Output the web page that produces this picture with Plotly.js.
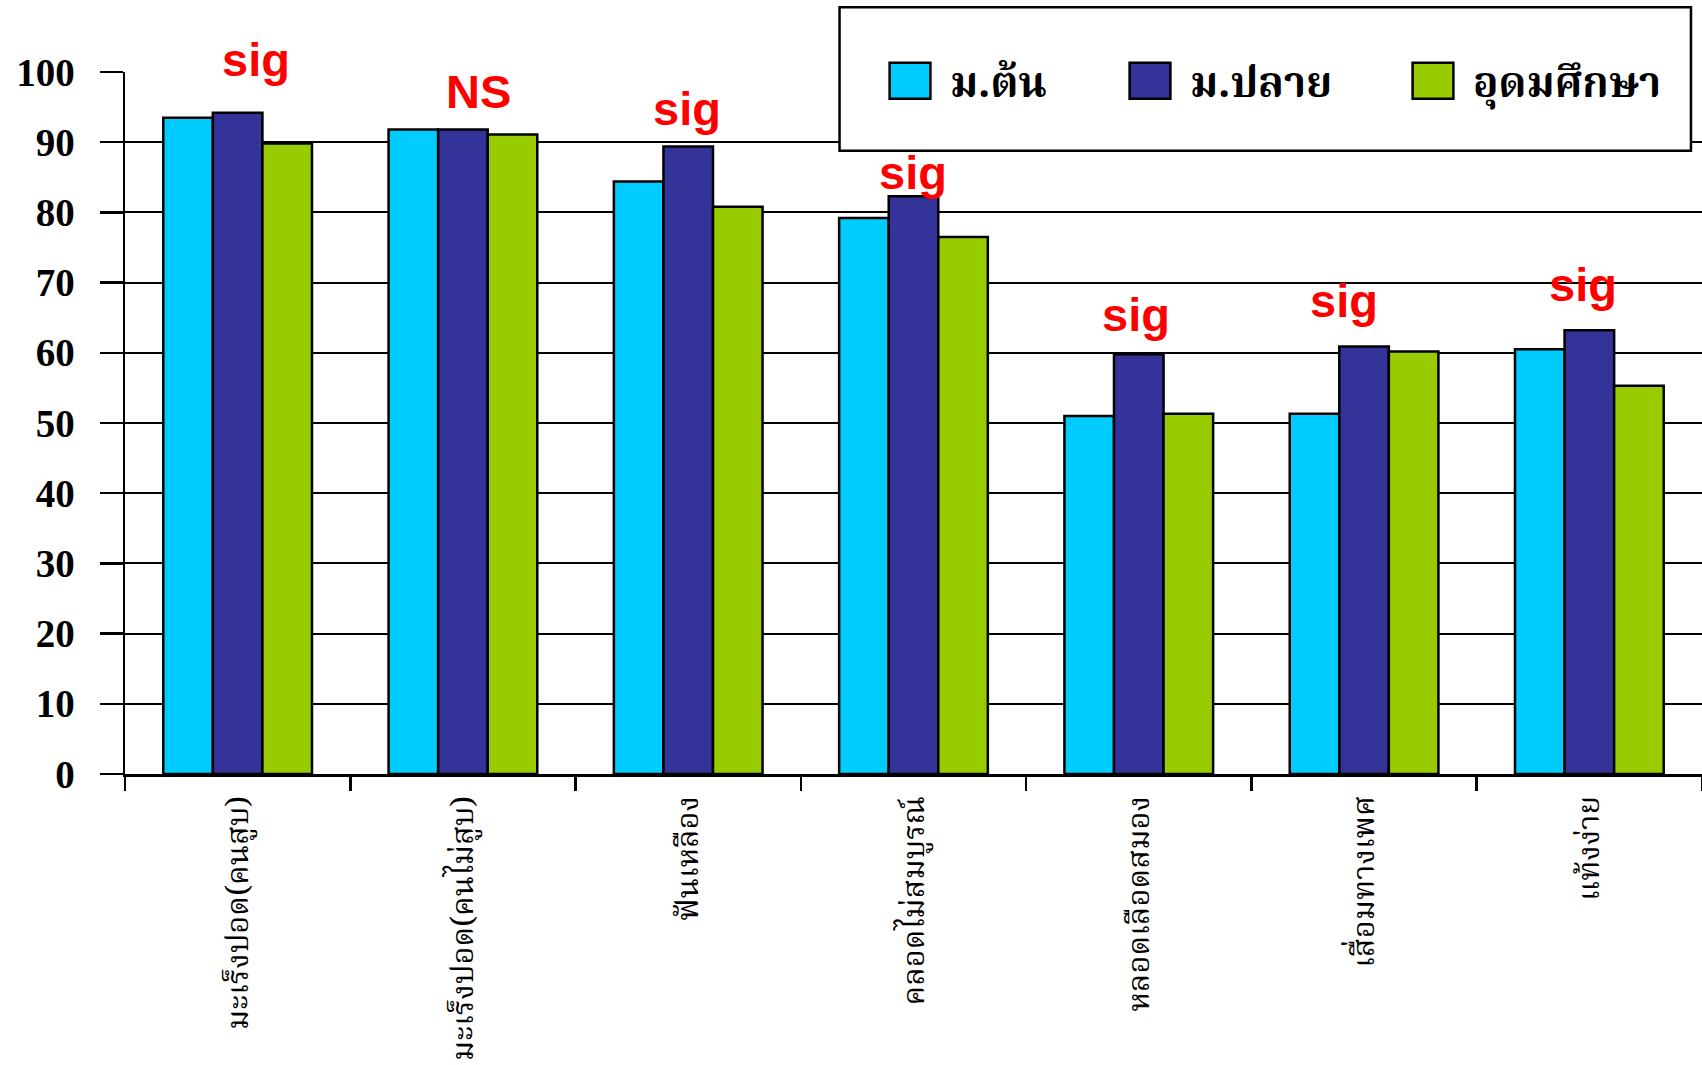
<!DOCTYPE html>
<html>
<head>
<meta charset="utf-8">
<script src="https://cdn.plot.ly/plotly-3.0.1.min.js"></script>
<style>
  html, body { margin: 0; padding: 0; background: #ffffff; }
  #chart { width: 1702px; height: 1065px; }
</style>
</head>
<body>
<div id="chart"></div>
<script>
// ---- data ----
const categories = [
  'มะเร็งปอด(คนสูบ)',
  'มะเร็งปอด(คนไม่สูบ)',
  'ฟันเหลือง',
  'คลอดไม่สมบูรณ์',
  'หลอดเลือดสมอง',
  'เสื่อมทางเพศ',
  'แท้งง่าย'
];
const seriesNames = ['ม.ต้น', 'ม.ปลาย', 'อุดมศึกษา'];
const lowerSecondary = [93.5, 91.8, 84.4, 79.2, 51.0, 51.3, 60.5];
const upperSecondary = [94.2, 91.8, 89.4, 82.3, 59.8, 60.9, 63.2];
const higherEducation = [89.8, 91.1, 80.8, 76.5, 51.3, 60.2, 55.3];
const sigLabels = ['sig', 'NS', 'sig', 'sig', 'sig', 'sig', 'sig'];
const yTickValues = [0, 10, 20, 30, 40, 50, 60, 70, 80, 90, 100];

// ---- styling / placement ----
const colors = ['#00CCFF', '#333399', '#99CC00'];
const sigLabelY = [100, 97.2, 94.8, 85.7, 65.4, 67.5, 69.8];
const sigLabelYShift = [13, 0, 0, 0, 0, 0, 0];
const sigLabelXShift = [18, 16, -1, -1, -3, -20, -6];
const legendEntryWidths = [195, 238, 212];
const thaiFont = '"Noto Serif Thai", "Noto Sans Thai", "Liberation Serif", "DejaVu Serif", serif';

const allSeries = [lowerSecondary, upperSecondary, higherEducation];
const traces = allSeries.map((vals, i) => ({
  type: 'bar',
  name: seriesNames[i],
  x: categories,
  y: vals,
  legendwidth: legendEntryWidths[i],
  marker: { color: colors[i], line: { color: '#000000', width: 2.5 } },
  hoverinfo: 'x+y+name'
}));

const annotations = categories.map((c, i) => ({
  x: c,
  y: sigLabelY[i],
  xref: 'x',
  yref: 'y',
  text: sigLabels[i],
  showarrow: false,
  xshift: sigLabelXShift[i],
  yshift: sigLabelYShift[i],
  xanchor: 'center',
  yanchor: 'middle',
  font: { family: '"Liberation Sans", Arial, sans-serif', size: 47, color: '#FF0000', weight: 'bold' }
}));

const layout = {
  width: 1702,
  height: 1065,
  margin: { l: 125, r: 0, t: 72, b: 291, pad: 0 },
  paper_bgcolor: '#ffffff',
  plot_bgcolor: '#ffffff',
  barmode: 'group',
  bargap: 0.34,
  bargroupgap: 0,
  showlegend: true,
  legend: {
    orientation: 'h',
    x: 0.4851,
    xanchor: 'left',
    y: 0.9872,
    yanchor: 'middle',
    bgcolor: 'rgba(0,0,0,0)',
    borderwidth: 0,
    font: { family: thaiFont, size: 42, color: '#000000', weight: 'bold' }
  },
  xaxis: {
    type: 'category',
    showline: true,
    linecolor: '#000000',
    linewidth: 2.5,
    ticks: 'outside',
    tickson: 'boundaries',
    ticklen: 14,
    tickwidth: 2.5,
    tickcolor: '#000000',
    tickangle: -90,
    showgrid: false,
    tickfont: { family: thaiFont, size: 31, color: '#000000' },
    ticklabelstandoff: 7,
    automargin: false
  },
  yaxis: {
    range: [0, 100],
    tickvals: yTickValues,
    showline: true,
    linecolor: '#000000',
    linewidth: 2.5,
    ticks: 'outside',
    ticklen: 23,
    tickwidth: 2.5,
    tickcolor: '#000000',
    showgrid: true,
    gridcolor: '#000000',
    gridwidth: 2,
    zeroline: false,
    tickfont: { family: '"Liberation Serif", "Times New Roman", serif', size: 39, color: '#000000', weight: 'bold' },
    ticklabelstandoff: 17,
    automargin: false
  },
  shapes: [{
    type: 'rect',
    xref: 'paper', yref: 'paper',
    x0: 0.4531, x1: 0.993, y0: 0.8879, y1: 1.0922,
    fillcolor: '#ffffff',
    line: { color: '#000000', width: 2.5 },
    layer: 'above'
  }],
  annotations: annotations
};

Plotly.newPlot('chart', traces, layout, { displayModeBar: false, staticPlot: true }).then(() => {
  document.querySelectorAll('#chart .legend .legendpoints path').forEach(p => {
    p.setAttribute('transform', 'translate(20,0) scale(3.4,3)');
    p.setAttribute('vector-effect', 'non-scaling-stroke');
    p.style.strokeWidth = '2.5px';
  });
  document.querySelectorAll('#chart .legend .legendtext').forEach(t => {
    t.setAttribute('transform', 'translate(20,0)');
  });
  const sb = document.querySelector('#chart .legend .scrollbox');
  if (sb) sb.removeAttribute('clip-path');
});
</script>
</body>
</html>
